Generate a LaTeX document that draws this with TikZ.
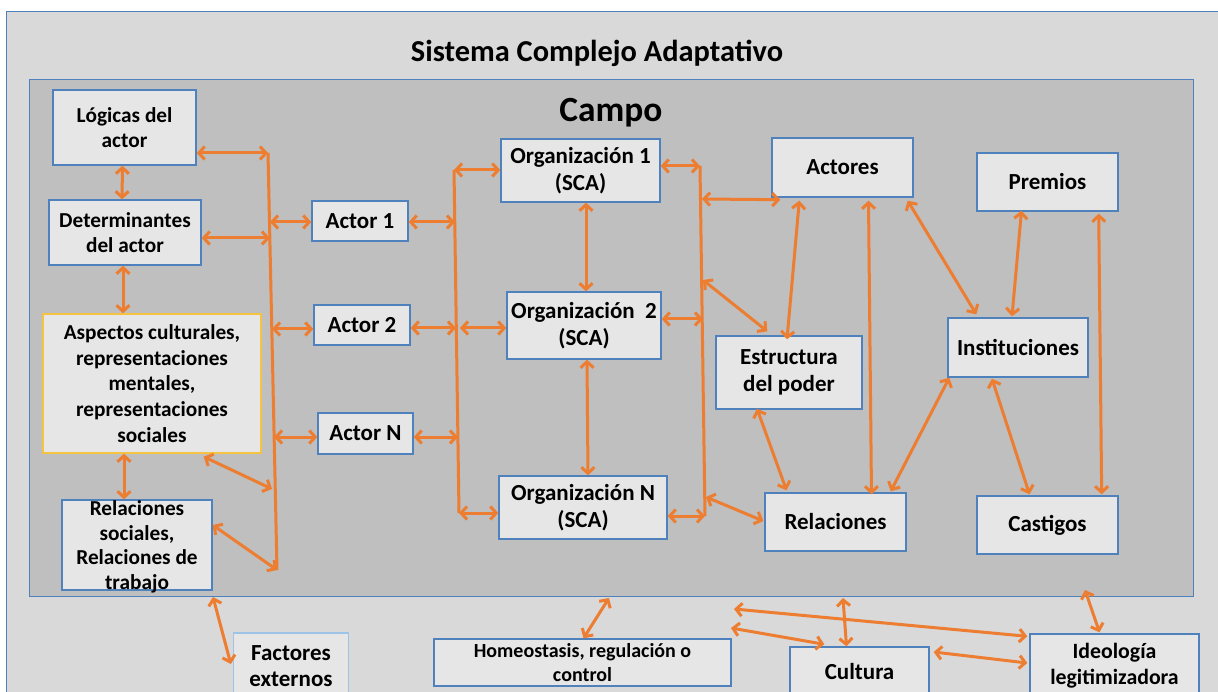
\documentclass[tikz,border=0pt]{standalone}
\usepackage{fontspec}
\setmainfont{Carlito}
\usetikzlibrary{arrows.meta}
\definecolor{outerbg}{HTML}{D9D9D9}
\definecolor{innerbg}{HTML}{BFBFBF}
\definecolor{boxbg}{HTML}{E6E6E6}
\definecolor{boxline}{HTML}{4F81BD}
\definecolor{goldline}{HTML}{F5C242}
\definecolor{lightline}{HTML}{9DC3E6}
\definecolor{arr}{HTML}{ED7D31}
\tikzset{
  box/.style={draw=boxline, line width=1.4pt, fill=boxbg, inner sep=1pt, align=center,
    font=\fontsize{21.3}{25.7}\selectfont\bfseries},
  bigbox/.style={box, font=\fontsize{23}{27.5}\selectfont\bfseries},
  txt/.style={inner sep=0pt, align=center, font=\fontsize{21.3}{24.5}\selectfont\bfseries},
  biarrow/.style={draw=arr, line width=3pt, {Straight Barb[length=6pt,width=13pt]}-{Straight Barb[length=6pt,width=13pt]}},
  busline/.style={draw=arr, line width=3pt}
}
\begin{document}
\begin{tikzpicture}[x=1pt,y=-1pt]
\useasboundingbox (0,0) rectangle (1218,692);
\clip (0,0) rectangle (1218,692);
\fill[white] (0,0) rectangle (1218,692);
% frames
\node[draw=boxline, line width=1.4pt, fill=outerbg, minimum width=1224pt, minimum height=699pt, inner sep=0pt, anchor=north west] (sca) at (6,11) {};
\node[draw=boxline, line width=1.4pt, fill=innerbg, minimum width=1164pt, minimum height=517pt, inner sep=0pt, anchor=north west] (campo) at (29,79) {};
\node[font=\fontsize{30.4}{36}\selectfont\bfseries, inner sep=0pt] (title) at (597,53) {Sistema Complejo Adaptativo};
\node[font=\fontsize{35.4}{40}\selectfont\bfseries, inner sep=0pt] (campot) at (611,113) {Campo};

% left column
\node[box, minimum width=143pt, minimum height=75pt] (logicas) at (124.5,127.5) {Lógicas del\\actor};
\node[box, minimum width=152pt, minimum height=65pt] (determ) at (125,232.5) {Determinantes\\del actor};
\node[box, draw=goldline, minimum width=218pt, minimum height=139pt] (aspectos) at (152,383.5) {Aspectos culturales,\\representaciones\\mentales,\\representaciones\\sociales};
\node[box, minimum width=150pt, minimum height=90pt] (relsoc) at (137,545) {};
\node[txt] (relsoct) at (137,547) {Relaciones\\sociales,\\Relaciones de\\trabajo};

% actors
\node[bigbox, minimum width=96pt, minimum height=40pt] (actor1) at (360,221) {Actor 1};
\node[bigbox, minimum width=96pt, minimum height=40pt] (actor2) at (362,325) {Actor 2};
\node[bigbox, minimum width=95pt, minimum height=41pt] (actorN) at (365.5,433.5) {Actor N};

% organizations
\node[bigbox, minimum width=159pt, minimum height=63pt] (org1) at (580.5,170.5) {Organización 1\\(SCA)};
\node[bigbox, minimum width=154pt, minimum height=67pt] (org2) at (584,325.5) {Organización~ 2\\(SCA)};
\node[bigbox, minimum width=168pt, minimum height=63pt] (orgN) at (583,507.5) {Organización N\\(SCA)};

% right part
\node[bigbox, minimum width=141pt, minimum height=59pt] (actores) at (842.5,167.5) {Actores};
\node[bigbox, minimum width=146pt, minimum height=73pt] (estructura) at (789,372.5) {Estructura\\del poder};
\node[bigbox, minimum width=141pt, minimum height=58pt] (relaciones) at (835.5,522) {Relaciones};
\node[bigbox, minimum width=141pt, minimum height=58pt] (premios) at (1047.5,182) {Premios};
\node[bigbox, minimum width=140pt, minimum height=59pt] (instituciones) at (1018,347.5) {Instituciones};
\node[bigbox, minimum width=141pt, minimum height=58pt] (castigos) at (1047.5,525) {Castigos};

% bottom
\node[box, draw=lightline, minimum width=115pt, minimum height=72pt] (factores) at (291,669) {};
\node[txt, font=\fontsize{23}{26}\selectfont\bfseries] (factorest) at (291,666) {Factores\\externos};
\node[box, minimum width=297pt, minimum height=47pt, font=\fontsize{20}{24}\selectfont\bfseries] (homeo) at (582.5,662.5) {Homeostasis, regulación o\\control};
\node[bigbox, minimum width=139pt, minimum height=50pt] (cultura) at (859.5,672) {Cultura};
\node[box, minimum width=169pt, minimum height=68pt] (ideologia) at (1114.5,668) {};
\node[txt, font=\fontsize{21.8}{26}\selectfont\bfseries] (ideologiat) at (1114.5,666) {Ideología\\legitimizadora};

% bus coordinates
\coordinate (lbT) at (268,153);
\coordinate (lbB) at (277,570);
\coordinate (lbD) at (270,238);
\coordinate (lb1) at (270,222);
\coordinate (lb2) at (272,329);
\coordinate (lbN) at (274,437);
\coordinate (lbA) at (272,489);
\coordinate (mbT) at (454,170);
\coordinate (mbB) at (459,513);
\coordinate (mb1) at (455,222);
\coordinate (mb2) at (456,328);
\coordinate (mb2r) at (460,328);
\coordinate (mbN) at (458,437);
\coordinate (rbT) at (700,166);
\coordinate (rbB) at (705,516);
\coordinate (rb2) at (703,319);
\coordinate (rbA) at (702,199);
\coordinate (rbE) at (703,280);
\coordinate (rbR) at (706,497);

\draw[busline] (lbT) -- (lbB);
\draw[busline] (mbT) -- (mbB);
\draw[busline] (rbT) -- (rbB);

% left arrows
\draw[biarrow] (logicas.east |- lbT) -- (lbT);
\draw[biarrow] (determ.east |- lbD) -- (lbD);
\draw[biarrow] (lb1) -- (actor1.west |- lb1);
\draw[biarrow] (lb2) -- (actor2.west |- lb2);
\draw[biarrow] (lbN) -- (actorN.west |- lbN);
\draw[biarrow] ([shift={(-58,3)}]aspectos.south east) -- (lbA);
\draw[biarrow] ([yshift=20]relsoc.east) -- (lbB);
\draw[biarrow] ([xshift=-2]logicas.south) -- ([xshift=-3]determ.north);
\draw[biarrow] ([xshift=-2]determ.south) -- ([xshift=-29]aspectos.north);
\draw[biarrow] ([xshift=-28]aspectos.south) -- ([xshift=-13]relsoc.north);

% middle arrows
\draw[biarrow] (actor1.east |- mb1) -- (mb1);
\draw[biarrow] (actor2.east |- mb2) -- (mb2);
\draw[biarrow] (actorN.east |- mbN) -- (mbN);
\draw[biarrow] (mbT) -- (org1.west |- mbT);
\draw[biarrow] (mb2r) -- (org2.west |- mb2r);
\draw[biarrow] (mbB) -- (orgN.west |- mbB);
\draw[biarrow] ([xshift=5.5]org1.south) -- ([xshift=2]org2.north);
\draw[biarrow] ([xshift=3]org2.south) -- ([xshift=5]orgN.north);

% right bus arrows
\draw[biarrow] (org1.east |- rbT) -- (rbT);
\draw[biarrow] (org2.east |- rb2) -- (rb2);
\draw[biarrow] (orgN.east |- rbB) -- (rbB);
\draw[biarrow] (rbA) -- ([shift={(9,2)}]actores.south west);
\draw[biarrow] (rbE) -- ([shift={(52,-4)}]estructura.north west);
\draw[biarrow] (rbR) -- ([shift={(-1,-1)}]relaciones.west);

% right network
\draw[biarrow] ([shift={(28,3)}]actores.south west) -- ([shift={(-2,4)}]estructura.north);
\draw[biarrow] ([shift={(26,3)}]actores.south) -- ([shift={(36,2)}]relaciones.north);
\draw[biarrow] ([shift={(-6,3)}]actores.south east) -- ([shift={(29,-3)}]instituciones.north west);
\draw[biarrow] ([shift={(-26,-1)}]premios.south) -- ([shift={(-6,-1)}]instituciones.north);
\draw[biarrow] ([shift={(-20,2)}]premios.south east) -- ([shift={(-17,-1)}]castigos.north east);
\draw[biarrow] ([shift={(-26,1)}]instituciones.south) -- ([shift={(-18,-1)}]castigos.north);
\draw[biarrow] ([shift={(2,0)}]instituciones.south west) -- ([shift={(-16,-1)}]relaciones.north east);
\draw[biarrow] ([shift={(-32,-1)}]estructura.south) -- ([shift={(-49,-2)}]relaciones.north);

% bottom arrows
\coordinate (cF) at (213,597);
\coordinate (cH) at (609,598);
\coordinate (cL) at (734,609);
\coordinate (cS) at (731,628);
\coordinate (cC) at (843,598);
\coordinate (cI) at (1085,590);
\draw[biarrow] (cF) -- ([shift={(-2,-5)}]factores.west);
\draw[biarrow] ([xshift=1]homeo.north) -- (cH);
\draw[biarrow] (cL) -- ([shift={(-2,3)}]ideologia.north west);
\draw[biarrow] (cS) -- ([shift={(35,-2)}]cultura.north west);
\draw[biarrow] (cC) -- ([xshift=-13]cultura.north);
\draw[biarrow] ([shift={(4,-20)}]cultura.east) -- ([shift={(-2,-5)}]ideologia.west);
\draw[biarrow] (cI) -- ([shift={(-15,-1)}]ideologia.north);
\end{tikzpicture}
\end{document}
